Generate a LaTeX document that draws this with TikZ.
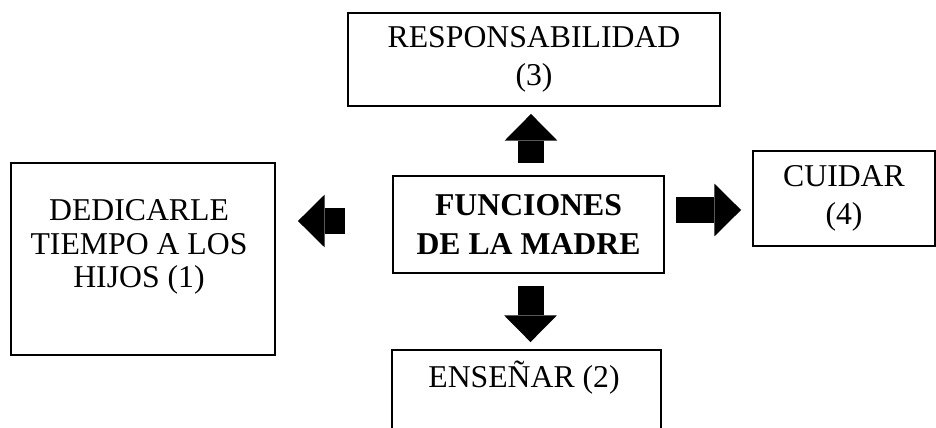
\documentclass[tikz,border=0pt]{standalone}
\usepackage{fontspec}
\setmainfont{Liberation Serif}
\usetikzlibrary{arrows.meta}
\tikzset{
	caja/.style={draw,line width=1.4pt,inner sep=0pt,align=center,font=\fontsize{23.8}{29}\selectfont},
	texto/.style={inner sep=0pt,align=center,font=\fontsize{23.8}{25}\selectfont},
	flecha/.style={line width=19.5pt,-{Triangle[width=39.5pt,length=20pt,line width=0pt]}},
}
\begin{document}
\begin{tikzpicture}[x=0.75pt,y=-0.75pt]
	\clip(0,0)rectangle(936,428);
	\node[caja,minimum width=279pt,minimum height=69.75pt](resp)at(534,59.5){RESPONSABILIDAD\\(3)};
	\node[caja,minimum width=198pt,minimum height=144pt](dedicar)at(143,259){};
	\node[texto](dedicar-t)at(139,247){DEDICARLE\\TIEMPO A LOS\\HIJOS (1)};
	\node[caja,font=\fontsize{23.8}{29}\selectfont\bfseries,minimum width=203.25pt,minimum height=72.75pt](madre)at(528.5,224.5){FUNCIONES\\DE LA MADRE};
	\node[caja,minimum width=136.5pt,minimum height=71.25pt](cuidar)at(844,198.5){CUIDAR\\(4)};
	\node[caja,minimum width=201.75pt,minimum height=82.5pt](ensenar)at(526.5,405){};
	\node[texto](ensenar-t)at(524,378){ENSEÑAR (2)};
	% flechas
	\path(madre.north)++(2.5,0)coordinate(arriba);
	\path(madre.south)++(2,0)coordinate(abajo);
	\path(madre.west)++(0,-3.5)coordinate(izq);
	\path(madre.east)++(0,-14.5)coordinate(der);
	\draw[flecha,shorten <=9pt,shorten >=5.25pt](arriba)--(arriba|-resp.south);
	\draw[flecha,shorten <=9pt,shorten >=5.25pt](abajo)--(abajo|-ensenar.north);
	\draw[flecha,shorten <=35.25pt,shorten >=16.5pt](izq)--(izq-|dedicar.east);
	\draw[flecha,shorten <=8.25pt,shorten >=8.25pt](der)--(der-|cuidar.west);
\end{tikzpicture}
\end{document}
